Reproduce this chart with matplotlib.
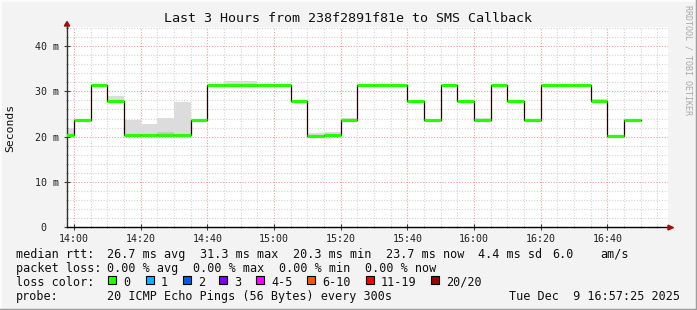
import matplotlib
matplotlib.use("Agg")
import matplotlib.pyplot as plt
from matplotlib.patches import Polygon, Rectangle
from matplotlib.lines import Line2D
import numpy as np

# ---------------- data ----------------
interval_start = ["13:55", "14:00", "14:05", "14:10", "14:15", "14:20", "14:25", "14:30",
                  "14:35", "14:40", "14:45", "14:50", "14:55", "15:00", "15:05", "15:10",
                  "15:15", "15:20", "15:25", "15:30", "15:35", "15:40", "15:45", "15:50",
                  "15:55", "16:00", "16:05", "16:10", "16:15", "16:20", "16:25", "16:30",
                  "16:35", "16:40", "16:45"]
median_ms = [20.3, 23.7, 31.3, 27.9, 20.3, 20.3, 20.3, 20.3,
             23.7, 31.3, 31.3, 31.3, 31.3, 31.3, 27.9, 20.2,
             20.4, 23.7, 31.3, 31.3, 31.3, 27.9, 23.7, 31.3,
             27.9, 23.7, 31.3, 27.9, 23.7, 31.3, 31.3, 31.3,
             27.9, 20.2, 23.7]
smoke_top_ms = [21.9, None, None, 28.9, 23.6, 22.7, 24.2, 27.6,
                None, None, 32.3, 32.3, None, None, None, 20.7,
                21.1, 24.2, None, None, None, None, None, None,
                None, 24.2, None, None, None, None, None, None,
                28.4, None, None]
smoke_dense_ms = [None, None, None, None, None, None, 21.1, None,
                  None, None, None, None, None, None, None, None,
                  None, None, None, None, None, None, None, None,
                  None, None, None, None, None, None, None, None,
                  None, None, None]

y_ticks = [0, 10, 20, 30, 40]
y_tick_labels = ["0  ", "10 m", "20 m", "30 m", "40 m"]
x_tick_labels = ["14:00", "14:20", "14:40", "15:00", "15:20", "15:40", "16:00", "16:20", "16:40"]

title = "Last 3 Hours from 238f2891f81e to SMS Callback"
legend_rows = [
    [("median rtt:", 16), ("26.7 ms avg", 107.3), ("31.3 ms max", 200), ("20.3 ms min", 293.3),
     ("23.7 ms now", 386), ("4.4 ms sd", 478.3), ("6.0", 552.7), ("am/s", 600)],
    [("packet loss:", 16), ("0.00 % avg", 107.3), ("0.00 % max", 193.3), ("0.00 % min", 279.3),
     ("0.00 % now", 365)],
]
loss_labels = ["0", "1", "2", "3", "4-5", "6-10", "11-19", "20/20"]
loss_colors = ["#26ff00", "#00b8ff", "#0059ff", "#7e00ff", "#ff00ff", "#ff5500", "#ff0000", "#a10000"]
loss_box_x = [108.3, 145.7, 182.7, 219.3, 256, 307.3, 365.7, 430.7]
probe_text = "20 ICMP Echo Pings (56 Bytes) every 300s"
date_text = "Tue Dec  9 16:57:25 2025"

# ---------------- helpers ----------------
W, H = 697, 310
def tomin(s):
    h, m = s.split(":")
    return (int(h) - 14) * 60 + int(m)

def fx(x):
    return x / W

def fy(y):
    return 1 - y / H

MONO = "DejaVu Sans Mono"

fig = plt.figure(figsize=(W / 100, H / 100), dpi=100, facecolor="#f3f3f3")

ax_l, ax_r, ax_t, ax_b = 67, 668, 27, 227.3
ax = fig.add_axes([fx(ax_l), fy(ax_b), (ax_r - ax_l) / W, (ax_b - ax_t) / H])
ax.set_facecolor("white")

starts = np.array([tomin(s) for s in interval_start], dtype=float)
ends = starts + 5
med = np.array(median_ms, dtype=float)

xmin = -2.1
xmax = xmin + (ax_r - ax_l) / (200 / 60.0)
ax.set_xlim(xmin, xmax)
ymax = (ax_b - ax_t) / 4.533
ax.set_ylim(0, ymax)

# grid
minor_col = "#d4d4d4"
major_col = "#eba0a0"
dot = (0, (1, 1.5))
for v in np.arange(0, ymax, 2):
    if v % 10 != 0:
        ax.axhline(v, color=minor_col, lw=0.8, ls=dot, zorder=0.5)
for v in [10, 20, 30, 40]:
    ax.axhline(v, color=major_col, lw=0.8, ls=dot, zorder=0.6)
for v in np.arange(0, xmax, 5):
    if v % 20 != 0:
        ax.axvline(v, color=minor_col, lw=0.8, ls=dot, zorder=0.5)
for v in np.arange(0, xmax, 20):
    ax.axvline(v, color=major_col, lw=0.8, ls=dot, zorder=0.6)

# smoke
for s, m, t in zip(starts, med, smoke_top_ms):
    if t is not None:
        ax.bar(s, t - m, bottom=m, width=5, align="edge", color="#dcdcdc", lw=0, zorder=1)
for s, m, t in zip(starts, med, smoke_dense_ms):
    if t is not None:
        ax.bar(s, t - m, bottom=m, width=5, align="edge", color="#c8c8c8", lw=0, zorder=1.1)

# median step line (vertical connectors)
xs = np.append(starts, ends[-1])
ys = np.append(med, med[-1])
ax.step(xs, ys, where="post", color="#200000", lw=0.9, zorder=2)
ax.hlines(med, starts, ends, color=loss_colors[0], lw=2.3, zorder=3)

# axes styling
for sp in ["top", "right"]:
    ax.spines[sp].set_visible(False)
ax.spines["left"].set_color("#303030")
ax.spines["bottom"].set_color("black")
ax.spines["left"].set_linewidth(1)
ax.spines["bottom"].set_linewidth(1)

ax.set_yticks(y_ticks)
ax.set_yticklabels(y_tick_labels, fontfamily=MONO, fontsize=7.2, color="#202020")
ax.set_yticks(np.arange(0, ymax, 2), minor=True)
x_pos = [tomin(s) for s in x_tick_labels]
ax.set_xticks(x_pos)
ax.set_xticklabels(x_tick_labels, fontfamily=MONO, fontsize=7.2, color="#202020")
ax.set_xticks(np.arange(0, xmax, 5), minor=True)
ax.tick_params(axis="both", which="major", direction="inout", length=4, width=0.8, color="#404040", pad=2.5)
ax.tick_params(axis="both", which="minor", direction="inout", length=2, width=0.6, color="#909090")
ax.tick_params(axis="y", pad=3.5)

# axis arrows
fig.patches.append(Polygon([[fx(64.3), fy(26)], [fx(69.7), fy(26)], [fx(67), fy(21.5)]],
                           closed=True, transform=fig.transFigure, color="#a01010", zorder=10))
fig.lines.append(Line2D([fx(67), fx(67)], [fy(27.5), fy(25)], transform=fig.transFigure, color="#303030", lw=1))
fig.patches.append(Polygon([[fx(668), fy(225.2)], [fx(668), fy(230)], [fx(673.5), fy(227.6)]],
                           closed=True, transform=fig.transFigure, color="#a01010", zorder=10))

# texts
fig.text(0.5, fy(19), title, ha="center", va="center", fontfamily=MONO, fontsize=9.6, color="#101010")
fig.text(fx(10.5), fy(127.5), "Seconds", rotation=90, ha="center", va="center",
         fontfamily=MONO, fontsize=8.2, color="#101010")
fig.text(fx(688), fy(5), "RRDTOOL / TOBI OETIKER", rotation=-90, ha="center", va="top",
         fontfamily=MONO, fontsize=6.0, color="#a8a8a8")

row_y = [254.3, 268.3, 282.3, 296.2]
LFS = 8.5
for r, row in enumerate(legend_rows):
    for txt, x in row:
        fig.text(fx(x), fy(row_y[r]), txt, ha="left", va="center", fontfamily=MONO, fontsize=LFS, color="#101010")
fig.text(fx(16), fy(row_y[2]), "loss color:", ha="left", va="center", fontfamily=MONO, fontsize=LFS, color="#101010")
for lab, col, bx in zip(loss_labels, loss_colors, loss_box_x):
    fig.patches.append(Rectangle((fx(bx), fy(284)), 8 / W, 8 / H, transform=fig.transFigure,
                                 facecolor=col, edgecolor="black", lw=0.8))
    fig.text(fx(bx + 15), fy(row_y[2]), lab, ha="left", va="center", fontfamily=MONO, fontsize=LFS, color="#101010")
fig.text(fx(16), fy(row_y[3]), "probe:", ha="left", va="center", fontfamily=MONO, fontsize=LFS, color="#101010")
fig.text(fx(107.3), fy(row_y[3]), probe_text, ha="left", va="center", fontfamily=MONO, fontsize=LFS, color="#101010")
fig.text(fx(680), fy(row_y[3]), date_text, ha="right", va="center", fontfamily=MONO, fontsize=LFS, color="#101010")

# frame
fig.lines.append(Line2D([0, 0], [0, 1], transform=fig.transFigure, color="#fcfcfc", lw=2))
fig.lines.append(Line2D([0, 1], [1, 1], transform=fig.transFigure, color="#fcfcfc", lw=2))
fig.lines.append(Line2D([1, 1], [0, 1], transform=fig.transFigure, color="#9e9e9e", lw=2.5))
fig.lines.append(Line2D([0, 1], [0, 0], transform=fig.transFigure, color="#9e9e9e", lw=2.5))

fig.savefig("out.png", dpi=100, facecolor=fig.get_facecolor())
